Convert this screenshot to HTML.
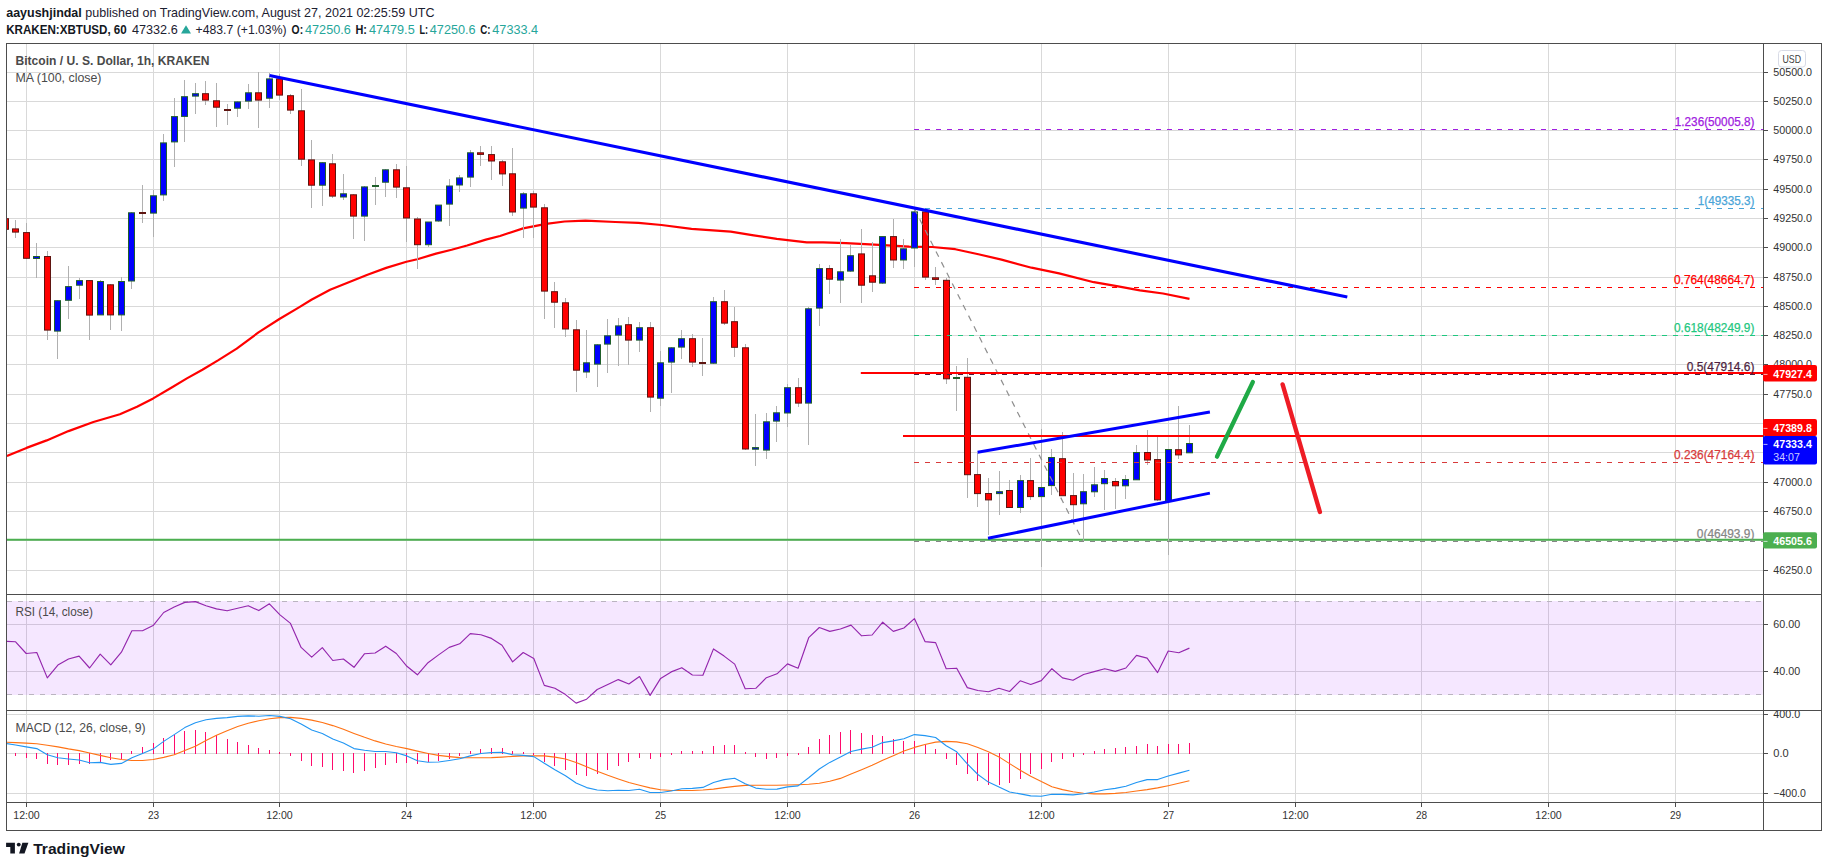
<!DOCTYPE html>
<html lang="en"><head><meta charset="utf-8"><title>BTCUSD chart</title>
<style>html,body{margin:0;padding:0;background:#fff;overflow:hidden}svg{display:block}</style></head>
<body>
<svg width="1828" height="867" viewBox="0 0 1828 867" font-family='"Liberation Sans", sans-serif'>
<rect width="1828" height="867" fill="#ffffff"/>
<defs>
<clipPath id="cm"><rect x="7" y="44" width="1756.5" height="550.5"/></clipPath>
<clipPath id="cr"><rect x="7" y="595.0" width="1756.5" height="115.0"/></clipPath>
<clipPath id="cd"><rect x="7" y="711.0" width="1756.5" height="91.0"/></clipPath>
<clipPath id="cax"><rect x="1763.5" y="711.0" width="60" height="91.0"/></clipPath>
</defs>
<path d="M26.5 43.5V802.5M153.5 43.5V802.5M279.5 43.5V802.5M406.5 43.5V802.5M533.5 43.5V802.5M660.5 43.5V802.5M787.5 43.5V802.5M914.5 43.5V802.5M1041.5 43.5V802.5M1168.5 43.5V802.5M1295.5 43.5V802.5M1421.5 43.5V802.5M1548.5 43.5V802.5M1675.5 43.5V802.5M6.5 72.5H1763.5M6.5 101.5H1763.5M6.5 130.5H1763.5M6.5 159.5H1763.5M6.5 189.5H1763.5M6.5 218.5H1763.5M6.5 247.5H1763.5M6.5 277.5H1763.5M6.5 306.5H1763.5M6.5 335.5H1763.5M6.5 364.5H1763.5M6.5 394.5H1763.5M6.5 423.5H1763.5M6.5 452.5H1763.5M6.5 482.5H1763.5M6.5 511.5H1763.5M6.5 540.5H1763.5M6.5 570.5H1763.5M6.5 624.5H1763.5M6.5 671.5H1763.5M6.5 714.5H1763.5M6.5 753.5H1763.5M6.5 793.5H1763.5" stroke="#d9d9d9" stroke-width="1" fill="none" shape-rendering="crispEdges"/>
<rect x="7" y="601" width="1755.7" height="94" fill="#9915ff" fill-opacity="0.1"/>
<path d="M7 601.5H1762.0" stroke="#bab4c0" stroke-width="1" stroke-dasharray="5 6" shape-rendering="crispEdges"/>
<path d="M7 694.5H1762.0" stroke="#bab4c0" stroke-width="1" stroke-dasharray="5 6" shape-rendering="crispEdges"/>
<g clip-path="url(#cm)">
<path d="M7 539.7H1763.5" stroke="#4caf50" stroke-width="2"/>
<path d="M6.9 456.0L26.5 447.9L46.7 440.4L68.5 431.1L93.4 422.0L119.9 414.3L137.0 406.8L153.2 398.4L171.3 387.8L186.9 378.4L202.4 369.7L218.0 360.4L236.7 348.6L258.5 332.4L279.4 319.0L299.0 307.4L311.4 299.7L330.1 289.7L348.8 282.2L367.5 274.7L386.2 267.9L406.4 261.7L417.3 259.2L436.0 253.6L451.6 249.8L467.1 245.5L485.8 239.6L500.0 236.0L523.1 228.4L546.1 223.8L564.6 221.5L585.4 220.6L615.3 222.0L638.4 222.9L661.5 225.0L691.5 228.9L730.7 231.7L753.7 235.4L776.8 238.8L806.8 242.3L823.0 242.3L846.0 243.2L874.6 244.6L909.2 246.7L932.3 247.0L955.3 249.2L978.4 254.3L1001.5 259.6L1031.5 267.7L1059.1 273.4L1093.8 282.2L1116.8 286.1L1139.9 290.3L1163.0 293.5L1189.5 298.8" stroke="#ff0000" stroke-width="2.2" fill="none" stroke-linejoin="round"/>
<path d="M5.5 218.2V229.8M15.5 220.4V237.7M26.5 223.1V258.8M36.5 243.1V277.5M47.5 251.0V339.6M57.5 300.2V358.8M68.5 266.0V318.9M79.5 277.8V298.8M89.5 280.1V339.6M100.5 280.1V315.4M110.5 284.3V329.5M121.5 277.3V330.6M131.5 212.3V288.9M142.5 185.1V222.7M153.5 190.4V236.8M163.5 133.8V200.7M174.5 98.1V166.8M184.5 80.3V142.4M195.5 83.1V113.7M205.5 81.2V104.6M216.5 83.1V127.0M227.5 103.9V124.8M237.5 101.4V116.7M248.5 84.0V108.9M258.5 72.2V127.8M269.5 73.1V108.0M279.5 74.0V99.6M290.5 94.2V113.8M301.5 89.3V165.7M311.5 140.0V207.6M322.5 162.2V205.8M332.5 153.9V198.4M343.5 174.2V200.3M353.5 194.3V238.8M364.5 186.4V240.6M375.5 177.0V204.9M385.5 169.3V196.6M396.5 164.3V197.7M406.5 166.1V242.2M417.5 216.9V269.2M428.5 221.5V247.3M438.5 204.6V221.5M449.5 179.3V225.6M459.5 174.9V192.0M470.5 150.0V186.9M480.5 146.0V166.1M491.5 146.0V180.0M502.5 159.7V185.7M512.5 148.1V215.5M523.5 192.2V237.6M533.5 190.5V237.6M544.5 203.9V318.9M554.5 282.2V327.6M565.5 298.1V336.9M576.5 320.2V391.6M586.5 330.0V378.0M597.5 344.3V386.7M607.5 319.1V372.7M618.5 318.0V365.7M628.5 317.1V364.6M639.5 321.9V351.9M650.5 321.9V411.9M660.5 350.7V405.7M671.5 347.3V392.7M681.5 330.0V358.8M692.5 334.1V366.9M702.5 338.1V375.7M713.5 297.0V363.7M724.5 290.3V324.8M734.5 306.9V356.8M745.5 343.8V449.5M755.5 414.0V465.6M766.5 413.0V458.7M776.5 406.1V441.9M787.5 384.2V426.9M798.5 378.0V406.8M808.5 306.5V444.9M819.5 264.2V325.8M829.5 264.9V293.7M840.5 238.8V302.7M850.5 244.6V271.6M861.5 228.9V302.7M872.5 241.8V291.9M882.5 236.1V283.6M893.5 219.2V267.7M903.5 238.8V268.8M914.5 207.7V266.5M925.5 208.8V279.7M935.5 266.5V285.0M946.5 278.0V384.2M956.5 365.8V410.7M967.5 358.0V498.0M977.5 453.4V506.5M988.5 478.1V535.3M999.5 471.2V514.6M1009.5 480.0V507.2M1020.5 474.6V513.4M1030.5 458.0V499.6M1041.5 428.7V567.0M1051.5 448.8V495.0M1062.5 432.0V495.4M1073.5 473.0V519.2M1083.5 474.2V542.2M1094.5 467.3V496.6M1104.5 470.3V509.5M1115.5 477.6V508.8M1125.5 474.6V498.9M1136.5 444.9V479.5M1147.5 430.4V465.0M1157.5 437.3V500.7M1168.5 449.3V554.5M1178.5 406.1V458.7M1189.5 425.3V452.5" stroke="#b0b0b0" stroke-width="1" fill="none" shape-rendering="crispEdges"/>
<g><rect x="2.5" y="218.7" width="6" height="10.6" fill="#ff0000" stroke="#5e1410" stroke-width="1"/><rect x="12.5" y="228.9" width="6" height="3.2" fill="#ff0000" stroke="#5e1410" stroke-width="1"/><rect x="23.5" y="232.6" width="6" height="25.7" fill="#ff0000" stroke="#5e1410" stroke-width="1"/><rect x="33.5" y="256.5" width="6" height="2.0" fill="#0000ff" stroke="#1f5f2a" stroke-width="1"/><rect x="44.5" y="256.5" width="6" height="73.6" fill="#ff0000" stroke="#5e1410" stroke-width="1"/><rect x="54.5" y="300.7" width="6" height="30.4" fill="#0000ff" stroke="#1f5f2a" stroke-width="1"/><rect x="65.5" y="286.6" width="6" height="13.7" fill="#0000ff" stroke="#1f5f2a" stroke-width="1"/><rect x="76.5" y="280.6" width="6" height="4.6" fill="#0000ff" stroke="#1f5f2a" stroke-width="1"/><rect x="86.5" y="280.6" width="6" height="34.5" fill="#ff0000" stroke="#5e1410" stroke-width="1"/><rect x="97.5" y="281.5" width="6" height="33.4" fill="#0000ff" stroke="#1f5f2a" stroke-width="1"/><rect x="107.5" y="284.8" width="6" height="30.1" fill="#ff0000" stroke="#5e1410" stroke-width="1"/><rect x="118.5" y="281.5" width="6" height="33.4" fill="#0000ff" stroke="#1f5f2a" stroke-width="1"/><rect x="128.5" y="212.8" width="6" height="68.2" fill="#0000ff" stroke="#1f5f2a" stroke-width="1"/><rect x="139" y="212" width="7" height="2" fill="#5e1410"/><rect x="150.5" y="195.8" width="6" height="17.3" fill="#0000ff" stroke="#1f5f2a" stroke-width="1"/><rect x="160.5" y="142.9" width="6" height="52.0" fill="#0000ff" stroke="#1f5f2a" stroke-width="1"/><rect x="171.5" y="116.6" width="6" height="25.3" fill="#0000ff" stroke="#1f5f2a" stroke-width="1"/><rect x="181.5" y="96.7" width="6" height="19.7" fill="#0000ff" stroke="#1f5f2a" stroke-width="1"/><rect x="192.5" y="93.7" width="6" height="2.4" fill="#0000ff" stroke="#1f5f2a" stroke-width="1"/><rect x="202.5" y="93.7" width="6" height="6.4" fill="#ff0000" stroke="#5e1410" stroke-width="1"/><rect x="213.5" y="100.8" width="6" height="6.4" fill="#ff0000" stroke="#5e1410" stroke-width="1"/><rect x="224" y="109" width="7" height="2" fill="#5e1410"/><rect x="234.5" y="101.9" width="6" height="6.3" fill="#0000ff" stroke="#1f5f2a" stroke-width="1"/><rect x="245.5" y="92.8" width="6" height="8.3" fill="#0000ff" stroke="#1f5f2a" stroke-width="1"/><rect x="255.5" y="92.8" width="6" height="7.3" fill="#ff0000" stroke="#5e1410" stroke-width="1"/><rect x="266.5" y="78.9" width="6" height="19.3" fill="#0000ff" stroke="#1f5f2a" stroke-width="1"/><rect x="276.5" y="78.9" width="6" height="16.2" fill="#ff0000" stroke="#5e1410" stroke-width="1"/><rect x="287.5" y="95.7" width="6" height="14.4" fill="#ff0000" stroke="#5e1410" stroke-width="1"/><rect x="298.5" y="110.8" width="6" height="48.4" fill="#ff0000" stroke="#5e1410" stroke-width="1"/><rect x="308.5" y="159.9" width="6" height="25.3" fill="#ff0000" stroke="#5e1410" stroke-width="1"/><rect x="319.5" y="162.7" width="6" height="22.5" fill="#0000ff" stroke="#1f5f2a" stroke-width="1"/><rect x="329.5" y="163.8" width="6" height="32.3" fill="#ff0000" stroke="#5e1410" stroke-width="1"/><rect x="340.5" y="193.8" width="6" height="3.2" fill="#0000ff" stroke="#1f5f2a" stroke-width="1"/><rect x="350.5" y="194.8" width="6" height="21.3" fill="#ff0000" stroke="#5e1410" stroke-width="1"/><rect x="361.5" y="186.9" width="6" height="29.2" fill="#0000ff" stroke="#1f5f2a" stroke-width="1"/><rect x="372" y="185" width="7" height="2" fill="#1f5f2a"/><rect x="382.5" y="169.8" width="6" height="12.4" fill="#0000ff" stroke="#1f5f2a" stroke-width="1"/><rect x="393.5" y="169.8" width="6" height="17.3" fill="#ff0000" stroke="#5e1410" stroke-width="1"/><rect x="403.5" y="187.8" width="6" height="30.2" fill="#ff0000" stroke="#5e1410" stroke-width="1"/><rect x="414.5" y="219.0" width="6" height="25.7" fill="#ff0000" stroke="#5e1410" stroke-width="1"/><rect x="425.5" y="222.0" width="6" height="22.7" fill="#0000ff" stroke="#1f5f2a" stroke-width="1"/><rect x="435.5" y="205.1" width="6" height="15.9" fill="#0000ff" stroke="#1f5f2a" stroke-width="1"/><rect x="446.5" y="186.0" width="6" height="18.1" fill="#0000ff" stroke="#1f5f2a" stroke-width="1"/><rect x="456.5" y="177.9" width="6" height="7.1" fill="#0000ff" stroke="#1f5f2a" stroke-width="1"/><rect x="467.5" y="152.8" width="6" height="24.3" fill="#0000ff" stroke="#1f5f2a" stroke-width="1"/><rect x="477.5" y="152.8" width="6" height="1.6" fill="#ff0000" stroke="#5e1410" stroke-width="1"/><rect x="488.5" y="154.6" width="6" height="6.4" fill="#ff0000" stroke="#5e1410" stroke-width="1"/><rect x="499.5" y="161.8" width="6" height="12.1" fill="#ff0000" stroke="#5e1410" stroke-width="1"/><rect x="509.5" y="173.8" width="6" height="38.2" fill="#ff0000" stroke="#5e1410" stroke-width="1"/><rect x="520.5" y="193.8" width="6" height="14.3" fill="#0000ff" stroke="#1f5f2a" stroke-width="1"/><rect x="530.5" y="193.8" width="6" height="13.3" fill="#ff0000" stroke="#5e1410" stroke-width="1"/><rect x="541.5" y="207.8" width="6" height="83.3" fill="#ff0000" stroke="#5e1410" stroke-width="1"/><rect x="551.5" y="291.7" width="6" height="10.5" fill="#ff0000" stroke="#5e1410" stroke-width="1"/><rect x="562.5" y="302.8" width="6" height="26.2" fill="#ff0000" stroke="#5e1410" stroke-width="1"/><rect x="573.5" y="329.8" width="6" height="40.4" fill="#ff0000" stroke="#5e1410" stroke-width="1"/><rect x="583.5" y="362.8" width="6" height="9.2" fill="#0000ff" stroke="#1f5f2a" stroke-width="1"/><rect x="594.5" y="344.8" width="6" height="19.3" fill="#0000ff" stroke="#1f5f2a" stroke-width="1"/><rect x="604.5" y="335.8" width="6" height="8.3" fill="#0000ff" stroke="#1f5f2a" stroke-width="1"/><rect x="615.5" y="325.9" width="6" height="9.2" fill="#0000ff" stroke="#1f5f2a" stroke-width="1"/><rect x="625.5" y="324.7" width="6" height="15.4" fill="#ff0000" stroke="#5e1410" stroke-width="1"/><rect x="636.5" y="327.7" width="6" height="12.4" fill="#0000ff" stroke="#1f5f2a" stroke-width="1"/><rect x="647.5" y="327.7" width="6" height="69.4" fill="#ff0000" stroke="#5e1410" stroke-width="1"/><rect x="657.5" y="362.8" width="6" height="35.4" fill="#0000ff" stroke="#1f5f2a" stroke-width="1"/><rect x="668.5" y="347.8" width="6" height="14.3" fill="#0000ff" stroke="#1f5f2a" stroke-width="1"/><rect x="678.5" y="338.7" width="6" height="8.4" fill="#0000ff" stroke="#1f5f2a" stroke-width="1"/><rect x="689.5" y="338.7" width="6" height="23.4" fill="#ff0000" stroke="#5e1410" stroke-width="1"/><rect x="699" y="362" width="7" height="2" fill="#5e1410"/><rect x="710.5" y="301.7" width="6" height="61.5" fill="#0000ff" stroke="#1f5f2a" stroke-width="1"/><rect x="721.5" y="301.7" width="6" height="21.4" fill="#ff0000" stroke="#5e1410" stroke-width="1"/><rect x="731.5" y="321.7" width="6" height="25.6" fill="#ff0000" stroke="#5e1410" stroke-width="1"/><rect x="742.5" y="347.8" width="6" height="101.2" fill="#ff0000" stroke="#5e1410" stroke-width="1"/><rect x="752.5" y="447.6" width="6" height="1.6" fill="#0000ff" stroke="#1f5f2a" stroke-width="1"/><rect x="763.5" y="421.8" width="6" height="28.3" fill="#0000ff" stroke="#1f5f2a" stroke-width="1"/><rect x="773.5" y="412.8" width="6" height="8.3" fill="#0000ff" stroke="#1f5f2a" stroke-width="1"/><rect x="784.5" y="387.7" width="6" height="25.3" fill="#0000ff" stroke="#1f5f2a" stroke-width="1"/><rect x="795.5" y="387.7" width="6" height="15.4" fill="#ff0000" stroke="#5e1410" stroke-width="1"/><rect x="805.5" y="308.8" width="6" height="94.3" fill="#0000ff" stroke="#1f5f2a" stroke-width="1"/><rect x="816.5" y="268.6" width="6" height="39.5" fill="#0000ff" stroke="#1f5f2a" stroke-width="1"/><rect x="826.5" y="268.6" width="6" height="10.6" fill="#ff0000" stroke="#5e1410" stroke-width="1"/><rect x="837.5" y="271.8" width="6" height="8.3" fill="#0000ff" stroke="#1f5f2a" stroke-width="1"/><rect x="847.5" y="255.7" width="6" height="15.4" fill="#0000ff" stroke="#1f5f2a" stroke-width="1"/><rect x="858.5" y="253.9" width="6" height="31.3" fill="#ff0000" stroke="#5e1410" stroke-width="1"/><rect x="869.5" y="275.8" width="6" height="6.4" fill="#ff0000" stroke="#5e1410" stroke-width="1"/><rect x="879.5" y="236.6" width="6" height="46.5" fill="#0000ff" stroke="#1f5f2a" stroke-width="1"/><rect x="890.5" y="236.6" width="6" height="23.4" fill="#ff0000" stroke="#5e1410" stroke-width="1"/><rect x="900.5" y="248.8" width="6" height="11.2" fill="#0000ff" stroke="#1f5f2a" stroke-width="1"/><rect x="911.5" y="211.9" width="6" height="36.1" fill="#0000ff" stroke="#1f5f2a" stroke-width="1"/><rect x="922.5" y="211.9" width="6" height="65.2" fill="#ff0000" stroke="#5e1410" stroke-width="1"/><rect x="932.5" y="277.8" width="6" height="1.6" fill="#ff0000" stroke="#5e1410" stroke-width="1"/><rect x="943.5" y="280.3" width="6" height="98.5" fill="#ff0000" stroke="#5e1410" stroke-width="1"/><rect x="953" y="377" width="7" height="2" fill="#1f5f2a"/><rect x="964.5" y="377.3" width="6" height="97.4" fill="#ff0000" stroke="#5e1410" stroke-width="1"/><rect x="974.5" y="474.6" width="6" height="19.0" fill="#ff0000" stroke="#5e1410" stroke-width="1"/><rect x="985.5" y="493.5" width="6" height="6.4" fill="#ff0000" stroke="#5e1410" stroke-width="1"/><rect x="996.5" y="491.7" width="6" height="1.9" fill="#0000ff" stroke="#1f5f2a" stroke-width="1"/><rect x="1006.5" y="490.5" width="6" height="17.0" fill="#ff0000" stroke="#5e1410" stroke-width="1"/><rect x="1017.5" y="480.6" width="6" height="26.9" fill="#0000ff" stroke="#1f5f2a" stroke-width="1"/><rect x="1027.5" y="480.6" width="6" height="16.0" fill="#ff0000" stroke="#5e1410" stroke-width="1"/><rect x="1038.5" y="487.5" width="6" height="9.1" fill="#0000ff" stroke="#1f5f2a" stroke-width="1"/><rect x="1048.5" y="457.5" width="6" height="28.1" fill="#0000ff" stroke="#1f5f2a" stroke-width="1"/><rect x="1059.5" y="458.7" width="6" height="37.0" fill="#ff0000" stroke="#5e1410" stroke-width="1"/><rect x="1070.5" y="495.6" width="6" height="9.1" fill="#ff0000" stroke="#5e1410" stroke-width="1"/><rect x="1080.5" y="491.7" width="6" height="12.1" fill="#0000ff" stroke="#1f5f2a" stroke-width="1"/><rect x="1091.5" y="484.8" width="6" height="7.0" fill="#0000ff" stroke="#1f5f2a" stroke-width="1"/><rect x="1101.5" y="478.5" width="6" height="5.2" fill="#0000ff" stroke="#1f5f2a" stroke-width="1"/><rect x="1112.5" y="481.5" width="6" height="4.3" fill="#ff0000" stroke="#5e1410" stroke-width="1"/><rect x="1122.5" y="479.5" width="6" height="6.3" fill="#0000ff" stroke="#1f5f2a" stroke-width="1"/><rect x="1133.5" y="452.5" width="6" height="27.3" fill="#0000ff" stroke="#1f5f2a" stroke-width="1"/><rect x="1144.5" y="452.5" width="6" height="7.5" fill="#ff0000" stroke="#5e1410" stroke-width="1"/><rect x="1154.5" y="459.6" width="6" height="40.3" fill="#ff0000" stroke="#5e1410" stroke-width="1"/><rect x="1165.5" y="449.5" width="6" height="51.1" fill="#0000ff" stroke="#1f5f2a" stroke-width="1"/><rect x="1175.5" y="449.7" width="6" height="5.2" fill="#ff0000" stroke="#5e1410" stroke-width="1"/><rect x="1186.5" y="443.5" width="6" height="9.3" fill="#0000ff" stroke="#1f5f2a" stroke-width="1"/></g>
<path d="M914.3 129.5H1763.5" stroke="#a020e0" stroke-width="1" stroke-dasharray="5 6" shape-rendering="crispEdges"/>
<path d="M914.3 208.5H1763.5" stroke="#4aa5d8" stroke-width="1" stroke-dasharray="5 6" shape-rendering="crispEdges"/>
<path d="M914.3 287.5H1763.5" stroke="#ff0000" stroke-width="1" stroke-dasharray="5 6" shape-rendering="crispEdges"/>
<path d="M914.3 335.5H1763.5" stroke="#1fc77f" stroke-width="1" stroke-dasharray="5 6" shape-rendering="crispEdges"/>
<path d="M914.3 374.5H1763.5" stroke="#4e1f3f" stroke-width="1" stroke-dasharray="5 6" shape-rendering="crispEdges"/>
<path d="M914.3 462.5H1763.5" stroke="#d83a3a" stroke-width="1" stroke-dasharray="5 6" shape-rendering="crispEdges"/>
<path d="M914.3 541.5H1763.5" stroke="#868686" stroke-width="1" stroke-dasharray="5 6" shape-rendering="crispEdges"/>
<path d="M914.3 208.6L1083 541.5" stroke="#8e8e8e" stroke-width="1.2" stroke-dasharray="6 6" fill="none"/>
<path d="M860.8 373H1763.5" stroke="#ff0000" stroke-width="2"/>
<path d="M903 435.9H1763.5" stroke="#ff0000" stroke-width="2"/>
<path d="M269.5 75.4L1347.3 297.1" stroke="#0000ff" stroke-width="3.1" fill="none"/>
<path d="M977.6 452.3L1209.9 412.1" stroke="#0000ff" stroke-width="3" fill="none"/>
<path d="M988 538.3L1209.9 493.1" stroke="#0000ff" stroke-width="3" fill="none"/>
<path d="M1217 456.6L1252.8 382.1" stroke="#1faa46" stroke-width="4.4" stroke-linecap="round" fill="none"/>
<path d="M1282.6 384.4L1319.9 512" stroke="#ee1c25" stroke-width="4.4" stroke-linecap="round" fill="none"/>
<text x="1754.4" y="125.8" font-size="12" fill="#a020e0" stroke="#a020e0" stroke-width="0.25" text-anchor="end" textLength="79.6" lengthAdjust="spacingAndGlyphs">1.236(50005.8)</text>
<text x="1754.4" y="204.8" font-size="12" fill="#4aa5d8" stroke="#4aa5d8" stroke-width="0.25" text-anchor="end" textLength="56.6" lengthAdjust="spacingAndGlyphs">1(49335.3)</text>
<text x="1754.4" y="283.8" font-size="12" fill="#ff0000" stroke="#ff0000" stroke-width="0.25" text-anchor="end" textLength="80.4" lengthAdjust="spacingAndGlyphs">0.764(48664.7)</text>
<text x="1754.4" y="331.8" font-size="12" fill="#1fc77f" stroke="#1fc77f" stroke-width="0.25" text-anchor="end" textLength="80.4" lengthAdjust="spacingAndGlyphs">0.618(48249.9)</text>
<text x="1754.4" y="370.8" font-size="12" fill="#4e1f3f" stroke="#4e1f3f" stroke-width="0.25" text-anchor="end" textLength="67.7" lengthAdjust="spacingAndGlyphs">0.5(47914.6)</text>
<text x="1754.4" y="458.8" font-size="12" fill="#d83a3a" stroke="#d83a3a" stroke-width="0.25" text-anchor="end" textLength="80.4" lengthAdjust="spacingAndGlyphs">0.236(47164.4)</text>
<text x="1754.4" y="537.8" font-size="12" fill="#868686" stroke="#868686" stroke-width="0.25" text-anchor="end" textLength="57.6" lengthAdjust="spacingAndGlyphs">0(46493.9)</text>
<text x="15.5" y="65.2" font-size="12.4" font-weight="bold" fill="#4a4a4a" textLength="194" lengthAdjust="spacingAndGlyphs">Bitcoin / U. S. Dollar, 1h, KRAKEN</text>
<text x="15.5" y="82.2" font-size="12.4" fill="#4a4a4a" textLength="86" lengthAdjust="spacingAndGlyphs">MA (100, close)</text>
</g>
<g clip-path="url(#cr)">
<path d="M5.0 641.3L15.6 641.8L26.2 653.5L36.8 652.5L47.3 677.9L57.9 665.1L68.5 659.0L79.1 656.1L89.6 668.0L100.2 654.2L110.8 664.8L121.4 652.2L131.9 630.7L142.5 630.7L153.1 625.6L163.7 612.5L174.2 607.0L184.8 602.4L195.4 601.6L206.0 605.7L216.5 608.9L227.1 610.8L237.7 608.2L248.2 605.7L258.8 610.6L269.4 603.8L280.0 614.9L290.5 623.4L301.1 647.4L311.7 657.1L322.3 647.6L332.8 660.5L343.4 659.0L354.0 667.3L364.6 653.7L375.1 653.0L385.7 646.2L396.3 653.5L406.9 666.3L417.4 674.8L428.0 662.7L438.6 654.9L449.2 647.4L459.7 643.8L470.3 633.6L480.9 634.8L491.5 638.4L502.0 645.2L512.6 661.9L523.2 652.5L533.8 658.5L544.3 685.4L554.9 688.3L565.5 694.6L576.1 703.1L586.6 699.2L597.2 689.5L607.8 684.5L618.3 679.6L628.9 684.0L639.5 676.5L650.1 695.4L660.6 678.4L671.2 671.9L681.8 667.7L692.4 675.0L702.9 675.3L713.5 648.9L724.1 656.1L734.7 664.1L745.2 688.8L755.8 688.3L766.4 677.7L777.0 673.8L787.5 663.9L798.1 668.2L808.7 637.7L819.3 627.5L829.8 631.4L840.4 629.0L851.0 625.1L861.6 635.8L872.1 635.0L882.7 622.2L893.3 631.4L903.9 628.0L914.4 618.6L925.0 641.6L935.6 642.6L946.2 668.7L956.7 668.2L967.3 687.6L977.9 690.5L988.4 691.7L999.0 688.3L1009.6 691.5L1020.2 680.8L1030.7 684.5L1041.3 680.6L1051.9 668.7L1062.5 677.9L1073.0 680.3L1083.6 674.5L1094.2 671.6L1104.8 668.7L1115.3 671.4L1125.9 668.0L1136.5 655.4L1147.1 658.1L1157.6 672.6L1168.2 651.0L1178.8 652.7L1189.4 648.1" stroke="#9426ad" stroke-width="1.15" fill="none" stroke-linejoin="round"/>
<text x="15.5" y="616" font-size="12.4" fill="#4a4a4a" textLength="77.5" lengthAdjust="spacingAndGlyphs">RSI (14, close)</text>
</g>
<g clip-path="url(#cd)">
<path d="M5.5 753V754.4M15.5 753V755.9M26.5 753V757.6M36.5 753V758.8M47.5 753V763.6M57.5 753V764.6M68.5 753V764.6M79.5 753V763.6M89.5 753V763.6M100.5 753V762.0M110.5 753V760.3M121.5 753V758.8M131.5 754V751.1M142.5 754V747.4M153.5 754V743.1M163.5 754V738.2M174.5 754V734.8M184.5 754V731.2M195.5 754V730.0M205.5 754V732.2M216.5 754V735.3M227.5 754V738.9M237.5 754V742.1M248.5 754V745.0M258.5 754V748.1M269.5 754V749.8M279.5 754V752.3M290.5 753V755.9M301.5 753V760.7M311.5 753V765.6M322.5 753V766.8M332.5 753V769.7M343.5 753V770.9M353.5 753V772.9M364.5 753V770.9M375.5 753V768.0M385.5 753V764.9M396.5 753V762.7M406.5 753V762.7M417.5 753V763.6M428.5 753V762.4M438.5 753V760.7M449.5 753V758.8M459.5 753V755.9M470.5 754V751.1M480.5 754V749.1M491.5 754V747.9M502.5 754V747.9M512.5 754V751.1M523.5 754V752.3M533.5 753V754.7M544.5 753V761.5M554.5 753V766.3M565.5 753V770.4M576.5 753V774.5M586.5 753V775.8M597.5 753V773.6M607.5 753V770.4M618.5 753V765.6M628.5 753V762.4M639.5 753V757.6M650.5 753V758.8M660.5 753V756.6M671.5 753V754.7M681.5 754V751.3M692.5 754V751.3M702.5 754V751.3M713.5 754V746.2M724.5 754V745.0M734.5 754V745.0M745.5 754V752.3M755.5 753V756.6M766.5 753V758.8M776.5 753V757.6M787.5 753V755.9M798.5 753V754.7M808.5 754V747.4M819.5 754V739.4M829.5 754V735.3M840.5 754V732.4M850.5 754V730.0M861.5 754V733.1M872.5 754V735.1M882.5 754V736.0M893.5 754V739.2M903.5 754V740.9M914.5 754V741.1M925.5 754V745.0M935.5 754V749.1M946.5 753V758.8M956.5 753V764.6M967.5 753V773.6M977.5 753V780.8M988.5 753V784.7M999.5 753V784.7M1009.5 753V783.0M1020.5 753V778.9M1030.5 753V773.6M1041.5 753V768.7M1051.5 753V761.7M1062.5 753V758.8M1073.5 753V756.9M1083.5 753V754.7M1094.5 754V751.3M1104.5 754V749.4M1115.5 754V748.1M1125.5 754V747.4M1136.5 754V745.5M1147.5 754V744.3M1157.5 754V746.2M1168.5 754V744.0M1178.5 754V744.0M1189.5 754V743.1" stroke="#ff0a6c" stroke-width="1" fill="none" shape-rendering="crispEdges"/>
<path d="M5.0 742.1L15.6 742.6L26.2 743.1L36.8 743.8L47.3 745.2L57.9 746.9L68.5 748.9L79.1 750.6L89.6 753.0L100.2 755.4L110.8 757.8L121.4 759.5L131.9 760.5L142.5 760.5L153.1 759.5L163.7 757.4L174.2 754.7L184.8 750.6L195.4 746.2L206.0 740.6L216.5 735.3L227.1 730.7L237.7 726.6L248.2 723.2L258.8 720.8L269.4 718.8L280.0 717.6L290.5 717.4L301.1 718.4L311.7 720.1L322.3 722.5L332.8 725.6L343.4 729.3L354.0 733.4L364.6 737.3L375.1 740.9L385.7 744.0L396.3 746.5L406.9 748.6L417.4 751.1L428.0 753.5L438.6 755.4L449.2 756.6L459.7 757.6L470.3 757.8L480.9 757.8L491.5 757.6L502.0 757.1L512.6 756.4L523.2 755.9L533.8 755.7L544.3 755.9L554.9 757.1L565.5 759.0L576.1 762.4L586.6 766.8L597.2 771.2L607.8 775.3L618.3 778.9L628.9 782.5L639.5 785.2L650.1 787.9L660.6 789.8L671.2 790.5L681.8 790.5L692.4 790.5L702.9 790.0L713.5 789.1L724.1 787.6L734.7 786.4L745.2 785.4L755.8 785.2L766.4 785.2L777.0 785.2L787.5 785.0L798.1 784.7L808.7 784.2L819.3 783.3L829.8 781.3L840.4 778.4L851.0 774.1L861.6 769.7L872.1 765.3L882.7 760.3L893.3 755.7L903.9 751.1L914.4 747.4L925.0 744.5L935.6 742.1L946.2 741.4L956.7 741.9L967.3 743.8L977.9 747.4L988.4 751.8L999.0 756.9L1009.6 763.6L1020.2 770.2L1030.7 776.2L1041.3 781.6L1051.9 786.7L1062.5 789.6L1073.0 791.7L1083.6 793.2L1094.2 793.9L1104.8 793.9L1115.3 793.4L1125.9 792.5L1136.5 791.0L1147.1 789.6L1157.6 787.9L1168.2 785.7L1178.8 783.3L1189.4 780.8" stroke="#ff7214" stroke-width="1.1" fill="none" stroke-linejoin="round"/>
<path d="M5.0 743.3L15.6 745.0L26.2 746.9L36.8 748.6L47.3 754.7L57.9 757.8L68.5 759.0L79.1 760.0L89.6 762.7L100.2 762.4L110.8 764.4L121.4 763.4L131.9 757.8L142.5 753.5L153.1 749.1L163.7 741.4L174.2 734.6L184.8 727.6L195.4 722.7L206.0 719.8L216.5 718.4L227.1 717.6L237.7 716.4L248.2 715.9L258.8 716.2L269.4 715.5L280.0 716.4L290.5 718.8L301.1 723.9L311.7 730.0L322.3 733.6L332.8 738.9L343.4 743.1L354.0 748.6L364.6 750.3L375.1 751.5L385.7 751.5L396.3 752.8L406.9 755.9L417.4 760.7L428.0 762.2L438.6 762.0L449.2 760.5L459.7 758.8L470.3 755.9L480.9 753.5L491.5 752.5L502.0 752.3L512.6 754.7L523.2 755.4L533.8 756.6L544.3 763.2L554.9 769.7L565.5 775.8L576.1 783.0L586.6 787.6L597.2 790.0L607.8 790.8L618.3 790.3L628.9 790.5L639.5 789.3L650.1 792.5L660.6 792.5L671.2 791.0L681.8 788.8L692.4 788.4L702.9 787.4L713.5 782.5L724.1 779.6L734.7 778.2L745.2 783.8L755.8 788.1L766.4 789.3L777.0 789.1L787.5 786.9L798.1 785.9L808.7 777.7L819.3 769.0L829.8 762.4L840.4 757.1L851.0 751.5L861.6 749.1L872.1 747.2L882.7 742.6L893.3 740.9L903.9 738.7L914.4 734.6L925.0 735.6L935.6 737.5L946.2 745.7L956.7 751.8L967.3 763.9L977.9 774.5L988.4 782.1L999.0 786.9L1009.6 792.0L1020.2 793.9L1030.7 795.9L1041.3 796.3L1051.9 794.2L1062.5 794.4L1073.0 794.9L1083.6 793.7L1094.2 792.0L1104.8 789.8L1115.3 788.4L1125.9 786.2L1136.5 782.5L1147.1 779.6L1157.6 779.6L1168.2 776.0L1178.8 773.1L1189.4 770.2" stroke="#2196f3" stroke-width="1.1" fill="none" stroke-linejoin="round"/>
<text x="15.5" y="732.3" font-size="12.4" fill="#4a4a4a" textLength="130" lengthAdjust="spacingAndGlyphs">MACD (12, 26, close, 9)</text>
</g>
<text x="1773.3" y="76.2" font-size="10.6" fill="#333333" textLength="38.7" lengthAdjust="spacingAndGlyphs">50500.0</text>
<text x="1773.3" y="105.2" font-size="10.6" fill="#333333" textLength="38.7" lengthAdjust="spacingAndGlyphs">50250.0</text>
<text x="1773.3" y="134.2" font-size="10.6" fill="#333333" textLength="38.7" lengthAdjust="spacingAndGlyphs">50000.0</text>
<text x="1773.3" y="163.2" font-size="10.6" fill="#333333" textLength="38.7" lengthAdjust="spacingAndGlyphs">49750.0</text>
<text x="1773.3" y="193.2" font-size="10.6" fill="#333333" textLength="38.7" lengthAdjust="spacingAndGlyphs">49500.0</text>
<text x="1773.3" y="222.2" font-size="10.6" fill="#333333" textLength="38.7" lengthAdjust="spacingAndGlyphs">49250.0</text>
<text x="1773.3" y="251.2" font-size="10.6" fill="#333333" textLength="38.7" lengthAdjust="spacingAndGlyphs">49000.0</text>
<text x="1773.3" y="281.2" font-size="10.6" fill="#333333" textLength="38.7" lengthAdjust="spacingAndGlyphs">48750.0</text>
<text x="1773.3" y="310.2" font-size="10.6" fill="#333333" textLength="38.7" lengthAdjust="spacingAndGlyphs">48500.0</text>
<text x="1773.3" y="339.2" font-size="10.6" fill="#333333" textLength="38.7" lengthAdjust="spacingAndGlyphs">48250.0</text>
<text x="1773.3" y="368.2" font-size="10.6" fill="#333333" textLength="38.7" lengthAdjust="spacingAndGlyphs">48000.0</text>
<text x="1773.3" y="398.2" font-size="10.6" fill="#333333" textLength="38.7" lengthAdjust="spacingAndGlyphs">47750.0</text>
<text x="1773.3" y="427.2" font-size="10.6" fill="#333333" textLength="38.7" lengthAdjust="spacingAndGlyphs">47500.0</text>
<text x="1773.3" y="456.2" font-size="10.6" fill="#333333" textLength="38.7" lengthAdjust="spacingAndGlyphs">47250.0</text>
<text x="1773.3" y="486.2" font-size="10.6" fill="#333333" textLength="38.7" lengthAdjust="spacingAndGlyphs">47000.0</text>
<text x="1773.3" y="515.2" font-size="10.6" fill="#333333" textLength="38.7" lengthAdjust="spacingAndGlyphs">46750.0</text>
<text x="1773.3" y="544.2" font-size="10.6" fill="#333333" textLength="38.7" lengthAdjust="spacingAndGlyphs">46500.0</text>
<text x="1773.3" y="574.2" font-size="10.6" fill="#333333" textLength="38.7" lengthAdjust="spacingAndGlyphs">46250.0</text>
<text x="1773.3" y="628.2" font-size="10.6" fill="#333333" textLength="26.8" lengthAdjust="spacingAndGlyphs">60.00</text>
<text x="1773.3" y="675.2" font-size="10.6" fill="#333333" textLength="26.8" lengthAdjust="spacingAndGlyphs">40.00</text>
<g clip-path="url(#cax)">
<text x="1773.3" y="718.2" font-size="10.6" fill="#333333" textLength="26.8" lengthAdjust="spacingAndGlyphs">400.0</text>
<text x="1773.3" y="757.2" font-size="10.6" fill="#333333" textLength="15.4" lengthAdjust="spacingAndGlyphs">0.0</text>
<text x="1773.3" y="797.2" font-size="10.6" fill="#333333" textLength="32.6" lengthAdjust="spacingAndGlyphs">−400.0</text>
</g>
<text x="26.5" y="819.3" font-size="10.6" fill="#333333" text-anchor="middle" textLength="26.5" lengthAdjust="spacingAndGlyphs">12:00</text>
<text x="153.5" y="819.3" font-size="10.6" fill="#333333" text-anchor="middle" textLength="11.2" lengthAdjust="spacingAndGlyphs">23</text>
<text x="279.5" y="819.3" font-size="10.6" fill="#333333" text-anchor="middle" textLength="26.5" lengthAdjust="spacingAndGlyphs">12:00</text>
<text x="406.5" y="819.3" font-size="10.6" fill="#333333" text-anchor="middle" textLength="11.2" lengthAdjust="spacingAndGlyphs">24</text>
<text x="533.5" y="819.3" font-size="10.6" fill="#333333" text-anchor="middle" textLength="26.5" lengthAdjust="spacingAndGlyphs">12:00</text>
<text x="660.5" y="819.3" font-size="10.6" fill="#333333" text-anchor="middle" textLength="11.2" lengthAdjust="spacingAndGlyphs">25</text>
<text x="787.5" y="819.3" font-size="10.6" fill="#333333" text-anchor="middle" textLength="26.5" lengthAdjust="spacingAndGlyphs">12:00</text>
<text x="914.5" y="819.3" font-size="10.6" fill="#333333" text-anchor="middle" textLength="11.2" lengthAdjust="spacingAndGlyphs">26</text>
<text x="1041.5" y="819.3" font-size="10.6" fill="#333333" text-anchor="middle" textLength="26.5" lengthAdjust="spacingAndGlyphs">12:00</text>
<text x="1168.5" y="819.3" font-size="10.6" fill="#333333" text-anchor="middle" textLength="11.2" lengthAdjust="spacingAndGlyphs">27</text>
<text x="1295.5" y="819.3" font-size="10.6" fill="#333333" text-anchor="middle" textLength="26.5" lengthAdjust="spacingAndGlyphs">12:00</text>
<text x="1421.5" y="819.3" font-size="10.6" fill="#333333" text-anchor="middle" textLength="11.2" lengthAdjust="spacingAndGlyphs">28</text>
<text x="1548.5" y="819.3" font-size="10.6" fill="#333333" text-anchor="middle" textLength="26.5" lengthAdjust="spacingAndGlyphs">12:00</text>
<text x="1675.5" y="819.3" font-size="10.6" fill="#333333" text-anchor="middle" textLength="11.2" lengthAdjust="spacingAndGlyphs">29</text>
<path d="M6.5 43.5H1821.5V830.5H6.5ZM1763.5 43.5V830.5M6.5 594.5H1821.5M6.5 710.5H1821.5M6.5 802.5H1821.5M1763.5 72.5h4.5M1763.5 101.5h4.5M1763.5 130.5h4.5M1763.5 159.5h4.5M1763.5 189.5h4.5M1763.5 218.5h4.5M1763.5 247.5h4.5M1763.5 277.5h4.5M1763.5 306.5h4.5M1763.5 335.5h4.5M1763.5 364.5h4.5M1763.5 394.5h4.5M1763.5 423.5h4.5M1763.5 452.5h4.5M1763.5 482.5h4.5M1763.5 511.5h4.5M1763.5 540.5h4.5M1763.5 570.5h4.5M1763.5 624.5h4.5M1763.5 671.5h4.5M1763.5 714.5h4.5M1763.5 753.5h4.5M1763.5 793.5h4.5M26.5 802.5v4M153.5 802.5v4M279.5 802.5v4M406.5 802.5v4M533.5 802.5v4M660.5 802.5v4M787.5 802.5v4M914.5 802.5v4M1041.5 802.5v4M1168.5 802.5v4M1295.5 802.5v4M1421.5 802.5v4M1548.5 802.5v4M1675.5 802.5v4" stroke="#4d4d4d" stroke-width="1" fill="none" shape-rendering="crispEdges"/>
<rect x="1763" y="365.1" width="54" height="16.399999999999977" rx="2" fill="#ff0000"/>
<path d="M1763.5 374.4h4" stroke="#ffffff" stroke-opacity="0.7" stroke-width="1"/>
<text x="1773.3" y="378.2" font-size="10.8" fill="#ffffff" fill-opacity="1" font-weight="bold" textLength="38.6" lengthAdjust="spacingAndGlyphs">47927.4</text>
<rect x="1763" y="419.1" width="54" height="16.899999999999977" rx="2" fill="#ff0000"/>
<path d="M1763.5 428.4h4" stroke="#ffffff" stroke-opacity="0.7" stroke-width="1"/>
<text x="1773.3" y="432.2" font-size="10.8" fill="#ffffff" fill-opacity="1" font-weight="bold" textLength="38.6" lengthAdjust="spacingAndGlyphs">47389.8</text>
<rect x="1763" y="436" width="54" height="28.600000000000023" rx="2" fill="#0000ff"/>
<path d="M1763.5 444.4h4" stroke="#ffffff" stroke-opacity="0.7" stroke-width="1"/>
<text x="1773.3" y="448.2" font-size="10.8" fill="#ffffff" fill-opacity="1" font-weight="bold" textLength="38.6" lengthAdjust="spacingAndGlyphs">47333.4</text>
<text x="1773.3" y="460.6" font-size="10.8" fill="#ffffff" fill-opacity="0.8" textLength="26.5" lengthAdjust="spacingAndGlyphs">34:07</text>
<rect x="1763" y="532.2" width="54" height="16.399999999999977" rx="2" fill="#4caf50"/>
<path d="M1763.5 541.4h4" stroke="#ffffff" stroke-opacity="0.7" stroke-width="1"/>
<text x="1773.3" y="545.2" font-size="10.8" fill="#ffffff" fill-opacity="1" font-weight="bold" textLength="38.6" lengthAdjust="spacingAndGlyphs">46505.6</text>
<rect x="1778.5" y="50.5" width="27" height="16.5" rx="3" fill="#ffffff" stroke="#d8dbe6" stroke-width="1"/>
<text x="1791.8" y="62.6" font-size="10.2" fill="#3f3f3f" text-anchor="middle" textLength="18.6" lengthAdjust="spacingAndGlyphs">USD</text>
<text x="6.2" y="16.6" font-size="12.6" fill="#131722"><tspan font-weight="bold" textLength="75.6" lengthAdjust="spacingAndGlyphs">aayushjindal</tspan></text>
<text x="85.3" y="16.6" font-size="12.6" fill="#1c2030" textLength="349.2" lengthAdjust="spacingAndGlyphs">published on TradingView.com, August 27, 2021 02:25:59 UTC</text>
<text x="6.2" y="33.7" font-size="12.6" font-weight="bold" fill="#131722" textLength="120.6" lengthAdjust="spacingAndGlyphs">KRAKEN:XBTUSD, 60</text>
<text x="132" y="33.7" font-size="12.6" fill="#1c2030" textLength="45.7" lengthAdjust="spacingAndGlyphs">47332.6</text>
<path d="M181 33.6L186 25.2L191 33.6Z" fill="#26a69a"/>
<text x="195.6" y="33.7" font-size="12.6" fill="#1c2030" textLength="91" lengthAdjust="spacingAndGlyphs">+483.7 (+1.03%)</text>
<text x="291.6" y="33.7" font-size="12.6" font-weight="bold" fill="#131722" textLength="11.5" lengthAdjust="spacingAndGlyphs">O:</text>
<text x="305.0" y="33.7" font-size="12.6" fill="#26a69a" textLength="45.8" lengthAdjust="spacingAndGlyphs">47250.6</text>
<text x="355.5" y="33.7" font-size="12.6" font-weight="bold" fill="#131722" textLength="11.5" lengthAdjust="spacingAndGlyphs">H:</text>
<text x="368.9" y="33.7" font-size="12.6" fill="#26a69a" textLength="45.8" lengthAdjust="spacingAndGlyphs">47479.5</text>
<text x="419.4" y="33.7" font-size="12.6" font-weight="bold" fill="#131722" textLength="8.6" lengthAdjust="spacingAndGlyphs">L:</text>
<text x="429.8" y="33.7" font-size="12.6" fill="#26a69a" textLength="45.8" lengthAdjust="spacingAndGlyphs">47250.6</text>
<text x="480.3" y="33.7" font-size="12.6" font-weight="bold" fill="#131722" textLength="10.2" lengthAdjust="spacingAndGlyphs">C:</text>
<text x="492.3" y="33.7" font-size="12.6" fill="#26a69a" textLength="45.8" lengthAdjust="spacingAndGlyphs">47333.4</text>
<path d="M6.1 842.7H14.9V853.4H10.3V847.1H6.1Z" fill="#131722"/>
<circle cx="18.75" cy="844.6" r="1.95" fill="#131722"/>
<path d="M22.4 842.7H28.4L24.5 853.4H19.1Z" fill="#131722"/>
<text x="33.2" y="853.6" font-size="15.1" font-weight="bold" fill="#131722" textLength="91.6" lengthAdjust="spacingAndGlyphs">TradingView</text>
</svg>
</body></html>
